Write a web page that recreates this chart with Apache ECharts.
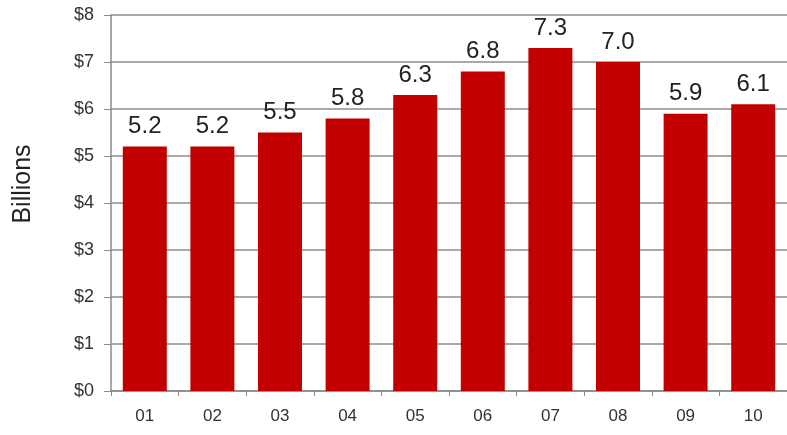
<!DOCTYPE html>
<html>
<head>
<meta charset="utf-8">
<script src="https://cdn.jsdelivr.net/npm/echarts@6/dist/echarts.min.js"></script>
<style>
  html, body { margin: 0; padding: 0; background: #fff; }
  #chart { width: 787px; height: 435px; }
</style>
</head>
<body>
<div id="chart"></div>
<script>
const years = ['01', '02', '03', '04', '05', '06', '07', '08', '09', '10']
const revenue = [5.2, 5.2, 5.5, 5.8, 6.3, 6.8, 7.3, 7.0, 5.9, 6.1]

const chart = echarts.init(document.getElementById('chart'))

chart.setOption({
  animation: false,
  grid: { left: 111, top: 15, width: 680, height: 376 },
  // axis title sits a bit above the middle in the original, so place it by hand
  graphic: [{
    type: 'text',
    x: 23, y: 184,
    rotation: Math.PI / 2,
    style: {
      text: 'Billions',
      fill: '#222',
      fontSize: 25,
      fontFamily: 'Liberation Sans, Arial',
      align: 'center',
      verticalAlign: 'middle'
    }
  }],
  xAxis: {
    type: 'category',
    data: years,
    axisLine: { lineStyle: { color: '#8a8a8a', width: 1.5 } },
    axisTick: { show: true, length: 5, lineStyle: { color: '#8a8a8a' } },
    axisLabel: { color: '#333', fontSize: 17, fontFamily: 'Liberation Sans, Arial', margin: 17 }
  },
  yAxis: {
    type: 'value',
    min: 0, max: 8, interval: 1,
    axisLine: { show: true, lineStyle: { color: '#8a8a8a', width: 1.5 } },
    axisTick: { show: true, length: 7, lineStyle: { color: '#8a8a8a' } },
    splitLine: { lineStyle: { color: '#8c8c8c', width: 1.5 } },
    axisLabel: {
      color: '#333', fontSize: 18, fontFamily: 'Liberation Sans, Arial', margin: 17,
      formatter: v => '$' + v
    }
  },
  series: [{
    type: 'bar',
    data: revenue,
    barWidth: 44,
    itemStyle: { color: '#c30000' },
    label: {
      show: true, position: 'top', distance: 8,
      color: '#222', fontSize: 24, fontFamily: 'Liberation Sans, Arial',
      formatter: p => p.value.toFixed(1)
    }
  }]
})
</script>
</body>
</html>
